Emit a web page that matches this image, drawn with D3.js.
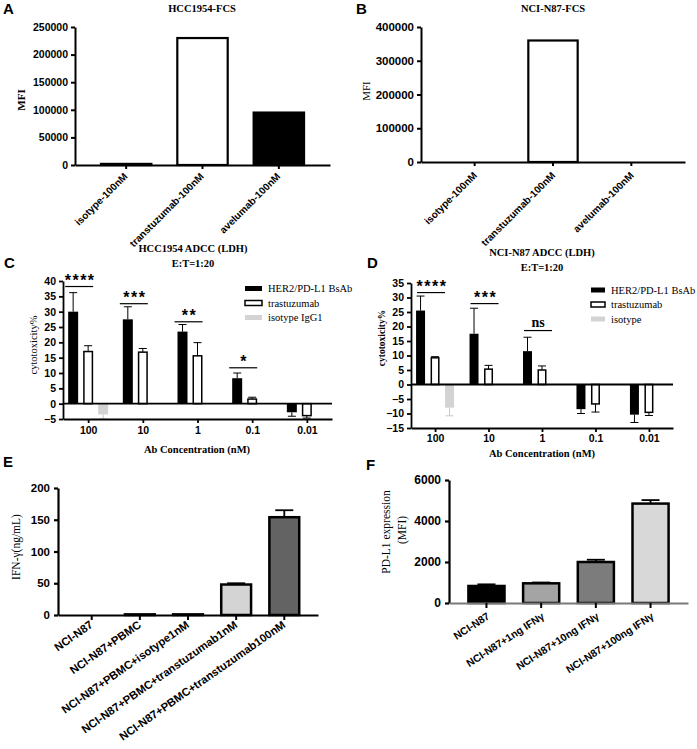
<!DOCTYPE html>
<html><head><meta charset="utf-8">
<script src="https://cdn.jsdelivr.net/npm/d3@7"></script>
<style>body{margin:0;background:#fff} svg{display:block}</style>
</head><body>
<svg id="fig" width="697" height="749"></svg>
<script>
// ---------------- DATA ----------------
const fcsCategories = ["isotype-100nM", "transtuzumab-100nM", "avelumab-100nM"];
const hccFcsValues = [2000, 230000, 95000];
const hccFcsTicks = [0, 50000, 100000, 150000, 200000, 250000];
const n87FcsValues = [0, 360000, 0];
const n87FcsTicks = [0, 100000, 200000, 300000, 400000];

const adccConcentrations = ["100", "10", "1", "0.1", "0.01"];
const adccSeries = ["bsab", "trast", "iso"];

const hccBsAb = [30, 27.5, 23.5, 8.3, -2.8];
const hccBsAbErr = [6.2, 4.1, 2.3, 1.7, 1.3];
const hccTrast = [17, 16.8, 15.6, 1.5, -3.9];
const hccTrastErr = [1.9, 1.2, 4.3, 0.6, 0.8];
const hccIso = [-3.5, null, null, null, null];
const hccIsoErr = [1.5, null, null, null, null];
const hccTicks = [-5, 0, 5, 10, 15, 20, 25, 30, 35, 40];
const hccSig = ["****", "***", "**", "*", null];
const hccSigLevel = [38.2, 32.6, 26.7, 11.7, null];
const hccLegend = ["HER2/PD-L1 BsAb", "trastuzumab", "isotype IgG1"];

const n87BsAb = [25.5, 17.5, 11.5, -8.5, -10.4];
const n87BsAbErr = [5, 8.8, 4.8, 1.5, 2.7];
const n87Trast = [9.2, 5.3, 5, -6.7, -9.6];
const n87TrastErr = [0.4, 1.3, 1.4, 2.8, 1.1];
const n87Iso = [-8, null, null, null, null];
const n87IsoErr = [2.8, null, null, null, null];
const n87Ticks = [-15, -10, -5, 0, 5, 10, 15, 20, 25, 30, 35];
const n87Sig = ["****", "***", "ns", null, null];
const n87SigLevel = [31.7, 27.9, 18.6, null, null];
const n87Legend = ["HER2/PD-L1 BsAb", "trastuzumab", "isotype"];

const ifnCategories = ["NCI-N87", "NCI-N87+PBMC", "NCI-N87+PBMC+isotype1nM",
  "NCI-N87+PBMC+transtuzumab1nM", "NCI-N87+PBMC+transtuzumab100nM"];
const ifnValues = [0, 1, 1, 48, 154];
const ifnErr = [0, 0, 0, 2, 11];
const ifnTicks = [0, 50, 100, 150, 200];

const pdl1Categories = ["NCI-N87", "NCI-N87+1ng IFNγ", "NCI-N87+10ng IFNγ", "NCI-N87+100ng IFNγ"];
const pdl1Values = [830, 960, 2000, 4850];
const pdl1Err = [80, 40, 110, 170];
const pdl1Ticks = [0, 2000, 4000, 6000];

// ---------------- STYLE ----------------
const SANS = "'Liberation Sans', Arial, sans-serif";
const SERIF = "'Liberation Serif', 'Times New Roman', serif";
const fcsFillA = ["#ffffff", "#ffffff", "#000000"];
const fcsFillB = ["#ffffff", "#ffffff", "#000000"];
const adccFill = {bsab: "#000000", trast: "#ffffff", iso: "#d3d3d3"};
const adccStroke = {bsab: "none", trast: "#000000", iso: "none"};
const adccErrColor = {bsab: "#000000", trast: "#000000", iso: "#c8c8c8"};
const ifnFill = ["#ffffff", "#ffffff", "#ffffff", "#d4d4d4", "#636363"];
const pdl1Fill = ["#000000", "#a4a4a4", "#7c7c7c", "#d8d8d8"];

const svg = d3.select("#fig");
svg.append("rect").attr("width", 697).attr("height", 749).attr("fill", "#fff");

function txt(g, s, x, y, o = {}) {
  const t = g.append("text").attr("x", x).attr("y", y).text(s)
    .attr("font-family", o.family || SANS)
    .attr("font-weight", o.weight || "bold")
    .attr("font-size", o.size || 10)
    .attr("text-anchor", o.anchor || "middle")
    .attr("fill", o.fill || "#000");
  if (o.rotate) t.attr("x", 0).attr("y", 0).attr("dy", "0.35em")
    .attr("transform", `translate(${x},${y}) rotate(${o.rotate})`);
  if (o.ls) t.attr("letter-spacing", o.ls);
  return t;
}

function styleAxis(a, sw, fs, dcolor) {
  a.select(".domain").attr("stroke", dcolor || "#000").attr("stroke-width", sw);
  a.selectAll(".tick line").attr("stroke", "#000").attr("stroke-width", sw);
  a.selectAll(".tick text").attr("font-family", SANS).attr("font-weight", "bold")
    .attr("font-size", fs).attr("fill", "#000");
}

function yAxis(g, y, x, ticks, sw, fs, pad) {
  const a = g.append("g").attr("transform", `translate(${x},0)`)
    .call(d3.axisLeft(y).tickValues(ticks).tickSize(4).tickSizeOuter(0)
      .tickPadding(pad).tickFormat(d3.format("d")));
  styleAxis(a, sw, fs);
  return a;
}

function rotLabels(a, angle, dx, dy, fs) {
  a.selectAll(".tick text").attr("x", 0).attr("y", 0).attr("dy", 0)
    .attr("text-anchor", "end").attr("font-size", fs)
    .attr("transform", `translate(${dx},${dy}) rotate(${-angle})`);
}

// ---------------- PANEL A / B ----------------
function fcsPanel(o) {
  const g = svg.append("g");
  const x = d3.scaleBand().domain(fcsCategories).range([o.x0, o.x1])
    .paddingInner(o.pad).paddingOuter(o.pad);
  const y = d3.scaleLinear().domain([0, o.ymax]).range([o.yb, o.yt]);
  g.selectAll("rect.bar").data(o.values).join("rect")
    .attr("x", (d, i) => x(fcsCategories[i]))
    .attr("width", x.bandwidth())
    .attr("y", d => y(d)).attr("height", d => y(0) - y(d))
    .attr("fill", (d, i) => o.fills[i])
    .attr("stroke", "#000").attr("stroke-width", 2.2)
    .style("display", d => d > 0 ? null : "none");
  yAxis(g, y, o.x0, o.ticks, 2, o.fs, 3);
  const xa = g.append("g").attr("transform", `translate(0,${o.yb})`)
    .call(d3.axisBottom(x).tickSize(4).tickSizeOuter(0));
  styleAxis(xa, 2, 10);
  rotLabels(xa, 45, o.ldx, o.ldy, 10);
  txt(g, o.title, o.tx, 12, {family: SERIF, size: 10.5});
  txt(g, "MFI", o.mx, o.my, {family: SERIF, size: 11, rotate: -90, weight: o.mw});
  txt(g, o.letter, o.lx, 14, {size: 15, anchor: "start"});
}
fcsPanel({values: hccFcsValues, ticks: hccFcsTicks, fills: fcsFillA, ymax: 250000,
  x0: 75, x1: 330, yb: 165, yt: 27, pad: 0.34, fs: 10.5, ldx: 2, ldy: 12,
  title: "HCC1954-FCS", tx: 202, mx: 21, my: 100, mw: "bold", letter: "A", lx: 3});
fcsPanel({values: n87FcsValues, ticks: n87FcsTicks, fills: fcsFillB, ymax: 400000,
  x0: 421, x1: 685, yb: 162, yt: 27, pad: 0.37, fs: 11.5, ldx: 3, ldy: 14,
  title: "NCI-N87-FCS", tx: 553, mx: 366, my: 91, mw: "normal", letter: "B", lx: 356});

// ---------------- PANEL C / D ----------------
function adccPanel(o) {
  const g = svg.append("g");
  const y = d3.scaleLinear().domain([o.ymin, o.ymax]).range([o.yb, o.yt]);
  const x = d3.scalePoint().domain(adccConcentrations).range([o.x0, o.x1]).padding(o.pad);
  const sub = d3.scaleBand().domain(adccSeries).range([-o.half, o.half])
    .paddingInner(o.pi).paddingOuter(o.po);
  const bw = sub.bandwidth();
  const series = {bsab: [o.bsab, o.bsabErr], trast: [o.trast, o.trastErr], iso: [o.iso, o.isoErr]};
  adccSeries.forEach(s => {
    const [vals, errs] = series[s];
    const pts = vals.map((v, i) => ({v, e: errs[i], c: adccConcentrations[i]})).filter(d => d.v !== null);
    pts.forEach(d => {
      const cx = x(d.c) + sub(s) + bw / 2;
      const tip = d.v >= 0 ? d.v + d.e : d.v - d.e;
      g.append("line").attr("x1", cx).attr("x2", cx).attr("y1", y(d.v)).attr("y2", y(tip))
        .attr("stroke", adccErrColor[s]).attr("stroke-width", 1);
      g.append("line").attr("x1", cx - 4).attr("x2", cx + 4).attr("y1", y(tip)).attr("y2", y(tip))
        .attr("stroke", adccErrColor[s]).attr("stroke-width", 1);
    });
    g.selectAll(null).data(pts).join("rect")
      .attr("x", d => x(d.c) + sub(s) + (s === "trast" ? 0.75 : 0))
      .attr("width", s === "trast" ? bw - 1.5 : bw)
      .attr("y", d => Math.min(y(d.v), y(0)))
      .attr("height", d => Math.abs(y(d.v) - y(0)))
      .attr("fill", adccFill[s]).attr("stroke", adccStroke[s]).attr("stroke-width", 1.5);
  });
  g.append("line").attr("x1", o.x0).attr("x2", o.x1).attr("y1", y(0)).attr("y2", y(0))
    .attr("stroke", "#000").attr("stroke-width", 1.8);
  yAxis(g, y, o.x0, o.ticks, 1.8, o.fs, 3);
  const xa = g.append("g").attr("transform", `translate(0,${o.yb})`)
    .call(d3.axisBottom(x).tickSize(4).tickSizeOuter(0));
  styleAxis(xa, 1.8, o.fs);
  xa.selectAll(".tick text").attr("y", o.labOff).attr("dy", "0.35em");
  o.sig.forEach((s, i) => {
    if (!s) return;
    const cx = x(adccConcentrations[i]);
    const ly = y(o.sigLevel[i]);
    g.append("line").attr("x1", cx + o.sl0).attr("x2", cx + o.sl1).attr("y1", ly).attr("y2", ly)
      .attr("stroke", "#000").attr("stroke-width", 1.2);
    const mid = cx + (o.sl0 + o.sl1) / 2;
    if (s === "ns") txt(g, s, mid, ly - 4, {family: SERIF, size: 14});
    else txt(g, s, mid + 1, ly - 1, {size: 16, ls: 1.5});
  });
  o.legend.forEach((lab, i) => {
    const s = adccSeries[i];
    const ry = o.legY + i * o.legStep;
    g.append("rect").attr("x", o.legX).attr("y", ry - 2.5).attr("width", o.legW).attr("height", 5)
      .attr("fill", adccFill[s]).attr("stroke", adccStroke[s]).attr("stroke-width", 1.5);
    txt(g, lab, o.legX + o.legW + 6, ry, {family: SERIF, weight: "normal", size: 10.5, anchor: "start"})
      .attr("dy", "0.35em");
  });
  txt(g, o.title, o.tcx, o.ty1, {family: SERIF, size: 10.5});
  txt(g, "E:T=1:20", o.tcx, o.ty2, {family: SERIF, size: 10.5});
  txt(g, "Ab Concentration (nM)", o.xcx, o.xty, {family: SERIF, size: 10.5});
  txt(g, "cytotoxicity%", o.ylx, o.yly, {family: SERIF, size: o.ylSize, weight: o.ylWeight, rotate: -90});
  txt(g, o.letter, o.lx, 268, {size: 15, anchor: "start"});
}
adccPanel({bsab: hccBsAb, bsabErr: hccBsAbErr, trast: hccTrast, trastErr: hccTrastErr,
  iso: hccIso, isoErr: hccIsoErr, ticks: hccTicks, sig: hccSig, sigLevel: hccSigLevel, legend: hccLegend,
  ymin: -5, ymax: 40, yb: 419, yt: 281, x0: 63, x1: 332, pad: 0.46,
  half: 22.5, pi: 1 / 3, po: 1 / 6, fs: 10.5, labOff: 11, sl0: -23, sl1: 5,
  legX: 245, legY: 288.5, legStep: 14.5, legW: 17,
  title: "HCC1954 ADCC (LDH)", tcx: 193, ty1: 252, ty2: 267, xcx: 197, xty: 453,
  ylx: 33, yly: 345, ylSize: 10.5, ylWeight: "normal", letter: "C", lx: 4});
adccPanel({bsab: n87BsAb, bsabErr: n87BsAbErr, trast: n87Trast, trastErr: n87TrastErr,
  iso: n87Iso, isoErr: n87IsoErr, ticks: n87Ticks, sig: n87Sig, sigLevel: n87SigLevel, legend: n87Legend,
  ymin: -15, ymax: 35, yb: 428, yt: 283, x0: 411, x1: 673, pad: 0.45,
  half: 21.75, pi: 0.38, po: 0.19, fs: 10.5, labOff: 10, sl0: -18, sl1: 10,
  legX: 591, legY: 290, legStep: 14.5, legW: 14,
  title: "NCI-N87 ADCC (LDH)", tcx: 542, ty1: 256, ty2: 271, xcx: 542, xty: 457,
  ylx: 382, yly: 338, ylSize: 9.5, ylWeight: "bold", letter: "D", lx: 367});

// ---------------- PANEL E / F ----------------
function errBarPanel(o) {
  const g = svg.append("g");
  const x = d3.scaleBand().domain(o.cats).range([o.x0, o.x1]).paddingInner(o.pi).paddingOuter(o.po);
  const y = d3.scaleLinear().domain([0, o.ymax]).range([o.yb, o.yt]);
  o.values.forEach((v, i) => {
    if (o.errs[i] > 0) {
      const cx = x(o.cats[i]) + x.bandwidth() / 2;
      g.append("line").attr("x1", cx).attr("x2", cx).attr("y1", y(v)).attr("y2", y(v + o.errs[i]))
        .attr("stroke", "#000").attr("stroke-width", 1.8);
      g.append("line").attr("x1", cx - o.cap).attr("x2", cx + o.cap)
        .attr("y1", y(v + o.errs[i])).attr("y2", y(v + o.errs[i]))
        .attr("stroke", "#000").attr("stroke-width", 1.8);
    }
  });
  g.selectAll("rect.bar").data(o.values).join("rect")
    .attr("x", (d, i) => x(o.cats[i])).attr("width", x.bandwidth())
    .attr("y", d => y(d)).attr("height", d => y(0) - y(d))
    .attr("fill", (d, i) => o.fills[i]).attr("stroke", "#000").attr("stroke-width", 2.5);
  yAxis(g, y, o.x0, o.ticks, 2.2, o.fs, 4);
  const xa = g.append("g").attr("transform", `translate(0,${o.yb})`)
    .call(d3.axisBottom(x).tickSize(5).tickSizeOuter(0));
  styleAxis(xa, 2, o.lfs, o.xDomainColor);
  rotLabels(xa, o.angle, o.ldx, o.ldy, o.lfs);
  o.ylabels.forEach(l => txt(g, l[0], l[1], l[2], {family: SERIF, weight: "normal", size: 11.5, rotate: -90}));
  txt(g, o.letter, o.lx, o.ly, {size: 15, anchor: "start"});
}
errBarPanel({cats: ifnCategories, values: ifnValues, errs: ifnErr, ticks: ifnTicks, fills: ifnFill,
  x0: 58, x1: 318, pi: 0.38, po: 0.39, ymax: 200, yb: 615, yt: 488, cap: 9, fs: 11.5,
  lfs: 11.3, angle: 35, ldx: 2, ldy: 11.5, xDomainColor: "#000",
  ylabels: [["IFN-γ(ng/mL)", 16, 547]], letter: "E", lx: 3, ly: 467});
errBarPanel({cats: pdl1Categories, values: pdl1Values, errs: pdl1Err, ticks: pdl1Ticks, fills: pdl1Fill,
  x0: 449, x1: 688, pi: 0.34, po: 0.355, ymax: 6000, yb: 603, yt: 480, cap: 9, fs: 12,
  lfs: 10.4, angle: 33, ldx: 4, ldy: 15, xDomainColor: "#7a7a7a",
  ylabels: [["PD-L1 expression", 386, 532], ["(MFI)", 402, 530]], letter: "F", lx: 366, ly: 470});
</script>
</body></html>
